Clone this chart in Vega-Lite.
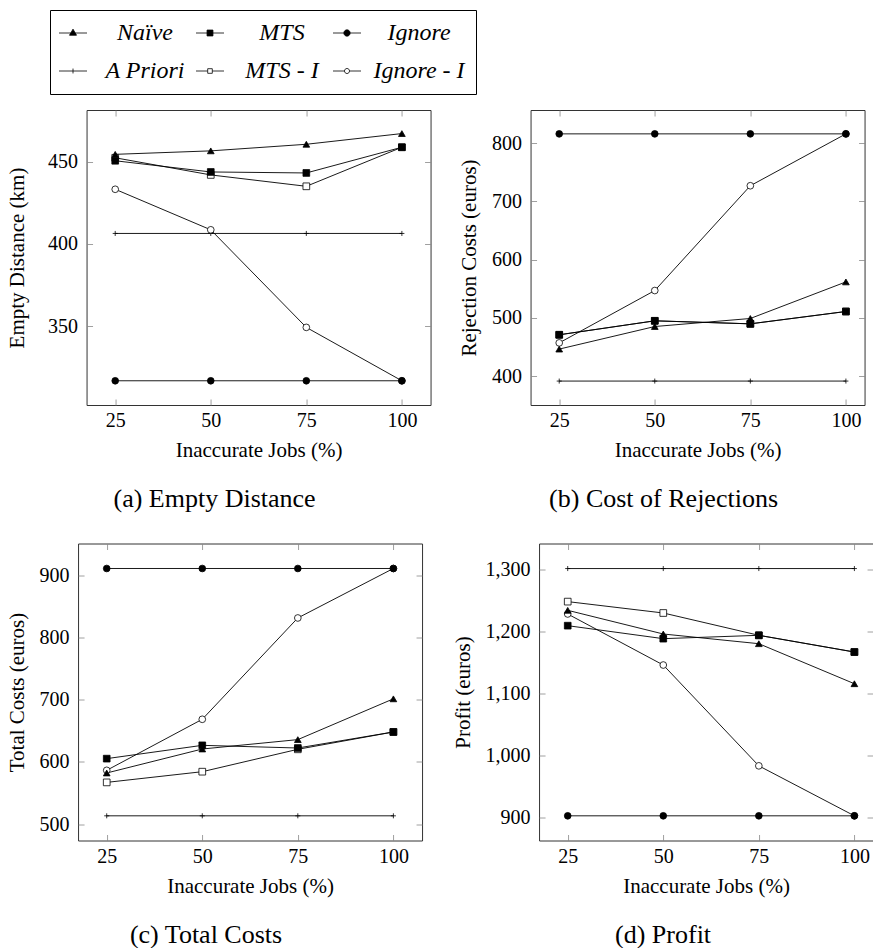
{
  "$schema": "https://vega.github.io/schema/vega-lite/v6.json",
  "background": "white",
  "padding": {"left": 5, "top": 9, "right": 0, "bottom": 0},
  "data": {"values": [
    {"p":"a","s":"A Priori","x":25,"v":406.4},{"p":"a","s":"A Priori","x":50,"v":406.4},{"p":"a","s":"A Priori","x":75,"v":406.4},{"p":"a","s":"A Priori","x":100,"v":406.4},
    {"p":"a","s":"Ignore - I","x":25,"v":433.2},{"p":"a","s":"Ignore - I","x":50,"v":408.6},{"p":"a","s":"Ignore - I","x":75,"v":349.4},{"p":"a","s":"Ignore - I","x":100,"v":317},
    {"p":"a","s":"MTS - I","x":25,"v":452.3},{"p":"a","s":"MTS - I","x":50,"v":441.9},{"p":"a","s":"MTS - I","x":75,"v":435},{"p":"a","s":"MTS - I","x":100,"v":458.7},
    {"p":"a","s":"Naïve","x":25,"v":454.4},{"p":"a","s":"Naïve","x":50,"v":456.5},{"p":"a","s":"Naïve","x":75,"v":460.5},{"p":"a","s":"Naïve","x":100,"v":467},
    {"p":"a","s":"MTS","x":25,"v":450.5},{"p":"a","s":"MTS","x":50,"v":443.7},{"p":"a","s":"MTS","x":75,"v":443.1},{"p":"a","s":"MTS","x":100,"v":458.7},
    {"p":"a","s":"Ignore","x":25,"v":317},{"p":"a","s":"Ignore","x":50,"v":317},{"p":"a","s":"Ignore","x":75,"v":317},{"p":"a","s":"Ignore","x":100,"v":317},

    {"p":"b","s":"A Priori","x":25,"v":391.4},{"p":"b","s":"A Priori","x":50,"v":391.4},{"p":"b","s":"A Priori","x":75,"v":391.4},{"p":"b","s":"A Priori","x":100,"v":391.4},
    {"p":"b","s":"Ignore - I","x":25,"v":457},{"p":"b","s":"Ignore - I","x":50,"v":546.9},{"p":"b","s":"Ignore - I","x":75,"v":726.9},{"p":"b","s":"Ignore - I","x":100,"v":816},
    {"p":"b","s":"MTS - I","x":25,"v":470.9},{"p":"b","s":"MTS - I","x":50,"v":494.9},{"p":"b","s":"MTS - I","x":75,"v":489.7},{"p":"b","s":"MTS - I","x":100,"v":510.9},
    {"p":"b","s":"Naïve","x":25,"v":446.3},{"p":"b","s":"Naïve","x":50,"v":485.1},{"p":"b","s":"Naïve","x":75,"v":498.9},{"p":"b","s":"Naïve","x":100,"v":561.7},
    {"p":"b","s":"MTS","x":25,"v":470.9},{"p":"b","s":"MTS","x":50,"v":494.9},{"p":"b","s":"MTS","x":75,"v":489.7},{"p":"b","s":"MTS","x":100,"v":510.9},
    {"p":"b","s":"Ignore","x":25,"v":816},{"p":"b","s":"Ignore","x":50,"v":816},{"p":"b","s":"Ignore","x":75,"v":816},{"p":"b","s":"Ignore","x":100,"v":816},

    {"p":"c","s":"A Priori","x":25,"v":513.4},{"p":"c","s":"A Priori","x":50,"v":513.4},{"p":"c","s":"A Priori","x":75,"v":513.4},{"p":"c","s":"A Priori","x":100,"v":513.4},
    {"p":"c","s":"Ignore - I","x":25,"v":586.6},{"p":"c","s":"Ignore - I","x":50,"v":668.7},{"p":"c","s":"Ignore - I","x":75,"v":831.7},{"p":"c","s":"Ignore - I","x":100,"v":911.3},
    {"p":"c","s":"MTS - I","x":25,"v":567.2},{"p":"c","s":"MTS - I","x":50,"v":584.4},{"p":"c","s":"MTS - I","x":75,"v":620.4},{"p":"c","s":"MTS - I","x":100,"v":648.3},
    {"p":"c","s":"Naïve","x":25,"v":582.3},{"p":"c","s":"Naïve","x":50,"v":620.9},{"p":"c","s":"Naïve","x":75,"v":636},{"p":"c","s":"Naïve","x":100,"v":701.6},
    {"p":"c","s":"MTS","x":25,"v":605.4},{"p":"c","s":"MTS","x":50,"v":626.8},{"p":"c","s":"MTS","x":75,"v":622.5},{"p":"c","s":"MTS","x":100,"v":648.3},
    {"p":"c","s":"Ignore","x":25,"v":911.3},{"p":"c","s":"Ignore","x":50,"v":911.3},{"p":"c","s":"Ignore","x":75,"v":911.3},{"p":"c","s":"Ignore","x":100,"v":911.3},

    {"p":"d","s":"A Priori","x":25,"v":1301},{"p":"d","s":"A Priori","x":50,"v":1301},{"p":"d","s":"A Priori","x":75,"v":1301},{"p":"d","s":"A Priori","x":100,"v":1301},
    {"p":"d","s":"Ignore - I","x":25,"v":1227.9},{"p":"d","s":"Ignore - I","x":50,"v":1145.8},{"p":"d","s":"Ignore - I","x":75,"v":983.6},{"p":"d","s":"Ignore - I","x":100,"v":903.2},
    {"p":"d","s":"MTS - I","x":25,"v":1247.8},{"p":"d","s":"MTS - I","x":50,"v":1229.5},{"p":"d","s":"MTS - I","x":75,"v":1193.6},{"p":"d","s":"MTS - I","x":100,"v":1166.7},
    {"p":"d","s":"Naïve","x":25,"v":1233.8},{"p":"d","s":"Naïve","x":50,"v":1195.7},{"p":"d","s":"Naïve","x":75,"v":1180.1},{"p":"d","s":"Naïve","x":100,"v":1115.7},
    {"p":"d","s":"MTS","x":25,"v":1209.1},{"p":"d","s":"MTS","x":50,"v":1188.2},{"p":"d","s":"MTS","x":75,"v":1193.6},{"p":"d","s":"MTS","x":100,"v":1166.7},
    {"p":"d","s":"Ignore","x":25,"v":903.2},{"p":"d","s":"Ignore","x":50,"v":903.2},{"p":"d","s":"Ignore","x":75,"v":903.2},{"p":"d","s":"Ignore","x":100,"v":903.2}
  ]},
  "spacing": 29.5,
  "center": true,
  "resolve": {"scale": {"shape": "shared", "fill": "shared"}},
  "vconcat": [
    {
      "spacing": 26,
      "hconcat": [
        {
          "width": 344, "height": 295,
          "transform": [{"filter": "datum.p === 'a'"}],
          "title": {"text": "(a) Empty Distance", "orient": "bottom", "dx": -44, "offset": 25.5},
          "layer": [
            {"mark": {"type": "line", "color": "black", "strokeWidth": 0.9},
             "encoding": {
               "x": {"field": "x", "type": "quantitative", "scale": {"domain": [17.5, 107.5], "nice": false, "zero": false},
                     "axis": {"values": [25, 50, 75, 100], "title": "Inaccurate Jobs (%)"}},
               "y": {"field": "v", "type": "quantitative", "scale": {"domain": [302.3, 481.3], "nice": false, "zero": false},
                     "axis": {"values": [350, 400, 450], "title": "Empty Distance (km)", "titlePadding": 20}},
               "detail": {"field": "s"}
             }},
            {"mark": {"type": "point", "filled": true, "size": 45, "stroke": "black", "strokeWidth": 0.8, "opacity": 1},
             "encoding": {
               "x": {"field": "x", "type": "quantitative", "axis": {"orient": "top", "values": [25, 50, 75, 100], "labels": false, "title": null}},
               "y": {"field": "v", "type": "quantitative", "axis": {"orient": "right", "values": [350, 400, 450], "labels": false, "title": null}},
               "shape": {"field": "s", "type": "nominal",
                 "scale": {"domain": ["A Priori", "Naïve", "MTS", "Ignore", "MTS - I", "Ignore - I"],
                           "range": ["M0,-0.75V0.75M-0.75,0H0.75", "triangle-up", "square", "circle", "square", "circle"]},
                 "legend": null},
               "fill": {"field": "s", "type": "nominal",
                 "scale": {"domain": ["Naïve", "MTS", "Ignore", "A Priori", "MTS - I", "Ignore - I"],
                           "range": ["black", "black", "black", "black", "white", "white"]},
                 "legend": {
                   "title": null, "orient": "none", "legendX": -28, "legendY": -100, "columns": 3, "direction": "horizontal",
                   "gridAlign": "all", "columnPadding": 3, "rowPadding": 14, "padding": 11,
                   "strokeColor": "black", "fillColor": "white",
                   "labelFont": "Liberation Serif", "labelFontSize": 24, "labelFontStyle": "italic", "labelColor": "black",
                   "labelAlign": "center", "labelOffset": 60, "labelLimit": 300,
                   "symbolSize": 196, "symbolStrokeWidth": 0.8, "symbolStrokeColor": "black",
                   "symbolType": {"expr": "datum.value === 'Naïve' ? 'M-2,0H2M0,-0.55L0.5,0.32L-0.5,0.32Z' : datum.value === 'MTS' ? 'M-2,0H2M-0.42,-0.42H0.42V0.42H-0.42Z' : datum.value === 'Ignore' ? 'M-2,0H2M-0.45,0A0.45,0.45,0,1,0,0.45,0A0.45,0.45,0,1,0,-0.45,0Z' : datum.value === 'A Priori' ? 'M-2,0H2M0,-0.35V0.35' : datum.value === 'MTS - I' ? 'M-2,0H-0.33M0.33,0H2M-0.33,-0.33H0.33V0.33H-0.33Z' : 'M-2,0H-0.36M0.36,0H2M-0.36,0A0.36,0.36,0,1,0,0.36,0A0.36,0.36,0,1,0,-0.36,0Z'"},
                   "encode": {"symbols": {
                     "stroke": {"value": "black"},
                     "strokeWidth": {"value": 0.8}
                   }}
                 }}
             }}
          ],
          "resolve": {"axis": {"x": "independent", "y": "independent"}}
        },
        {
          "width": 334, "height": 295,
          "transform": [{"filter": "datum.p === 'b'"}],
          "title": {"text": "(b) Cost of Rejections", "orient": "bottom", "dx": -34, "offset": 25.5},
          "layer": [
            {"mark": {"type": "line", "color": "black", "strokeWidth": 0.9},
             "encoding": {
               "x": {"field": "x", "type": "quantitative", "scale": {"domain": [17.5, 104.88], "nice": false, "zero": false},
                     "axis": {"values": [25, 50, 75, 100], "title": "Inaccurate Jobs (%)"}},
               "y": {"field": "v", "type": "quantitative", "scale": {"domain": [350.3, 857], "nice": false, "zero": false},
                     "axis": {"values": [400, 500, 600, 700, 800], "title": "Rejection Costs (euros)"}},
               "detail": {"field": "s"}
             }},
            {"mark": {"type": "point", "filled": true, "size": 45, "stroke": "black", "strokeWidth": 0.8, "opacity": 1},
             "encoding": {
               "x": {"field": "x", "type": "quantitative", "axis": {"orient": "top", "values": [25, 50, 75, 100], "labels": false, "title": null}},
               "y": {"field": "v", "type": "quantitative", "axis": {"orient": "right", "values": [400, 500, 600, 700, 800], "labels": false, "title": null}},
               "shape": {"field": "s", "type": "nominal", "legend": null},
               "fill": {"field": "s", "type": "nominal"}
             }}
          ],
          "resolve": {"axis": {"x": "independent", "y": "independent"}}
        }
      ]
    },
    {
      "spacing": 28,
      "hconcat": [
        {
          "width": 344, "height": 297,
          "transform": [{"filter": "datum.p === 'c'"}],
          "title": {"text": "(c) Total Costs", "orient": "bottom", "dx": -44, "offset": 25.5},
          "layer": [
            {"mark": {"type": "line", "color": "black", "strokeWidth": 0.9},
             "encoding": {
               "x": {"field": "x", "type": "quantitative", "scale": {"domain": [17.5, 107.5], "nice": false, "zero": false},
                     "axis": {"values": [25, 50, 75, 100], "title": "Inaccurate Jobs (%)"}},
               "y": {"field": "v", "type": "quantitative", "scale": {"domain": [473.7, 951.5], "nice": false, "zero": false},
                     "axis": {"values": [500, 600, 700, 800, 900], "title": "Total Costs (euros)"}},
               "detail": {"field": "s"}
             }},
            {"mark": {"type": "point", "filled": true, "size": 45, "stroke": "black", "strokeWidth": 0.8, "opacity": 1},
             "encoding": {
               "x": {"field": "x", "type": "quantitative", "axis": {"orient": "top", "values": [25, 50, 75, 100], "labels": false, "title": null}},
               "y": {"field": "v", "type": "quantitative", "axis": {"orient": "right", "values": [500, 600, 700, 800, 900], "labels": false, "title": null}},
               "shape": {"field": "s", "type": "nominal", "legend": null},
               "fill": {"field": "s", "type": "nominal"}
             }}
          ],
          "resolve": {"axis": {"x": "independent", "y": "independent"}}
        },
        {
          "width": 334, "height": 297,
          "transform": [{"filter": "datum.p === 'd'"}],
          "title": {"text": "(d) Profit", "orient": "bottom", "dx": -43, "offset": 25.5},
          "layer": [
            {"mark": {"type": "line", "color": "black", "strokeWidth": 0.9},
             "encoding": {
               "x": {"field": "x", "type": "quantitative", "scale": {"domain": [17.5, 104.88], "nice": false, "zero": false},
                     "axis": {"values": [25, 50, 75, 100], "title": "Inaccurate Jobs (%)"}},
               "y": {"field": "v", "type": "quantitative", "scale": {"domain": [863.5, 1341.3], "nice": false, "zero": false},
                     "axis": {"values": [900, 1000, 1100, 1200, 1300], "format": ",d", "title": "Profit (euros)"}},
               "detail": {"field": "s"}
             }},
            {"mark": {"type": "point", "filled": true, "size": 45, "stroke": "black", "strokeWidth": 0.8, "opacity": 1},
             "encoding": {
               "x": {"field": "x", "type": "quantitative", "axis": {"orient": "top", "values": [25, 50, 75, 100], "labels": false, "title": null}},
               "y": {"field": "v", "type": "quantitative", "axis": {"orient": "right", "values": [900, 1000, 1100, 1200, 1300], "labels": false, "title": null}},
               "shape": {"field": "s", "type": "nominal", "legend": null},
               "fill": {"field": "s", "type": "nominal"}
             }}
          ],
          "resolve": {"axis": {"x": "independent", "y": "independent"}}
        }
      ]
    }
  ],
  "config": {
    "view": {"stroke": "#333", "strokeWidth": 1},
    "font": "Liberation Serif",
    "axis": {
      "domain": false, "grid": false,
      "tickSize": -6, "tickColor": "#888", "tickWidth": 0.8,
      "labelFont": "Liberation Serif", "labelFontSize": 20, "labelColor": "black",
      "titleFont": "Liberation Serif", "titleFontSize": 21, "titleFontWeight": "normal", "titleColor": "black"
    },
    "axisBottom": {"labelPadding": 11.5, "titlePadding": 9},
    "axisLeft": {"labelPadding": 15, "titlePadding": 12},
    "title": {"font": "Liberation Serif", "fontSize": 26, "fontWeight": "normal", "color": "black", "anchor": "middle"}
  }
}
